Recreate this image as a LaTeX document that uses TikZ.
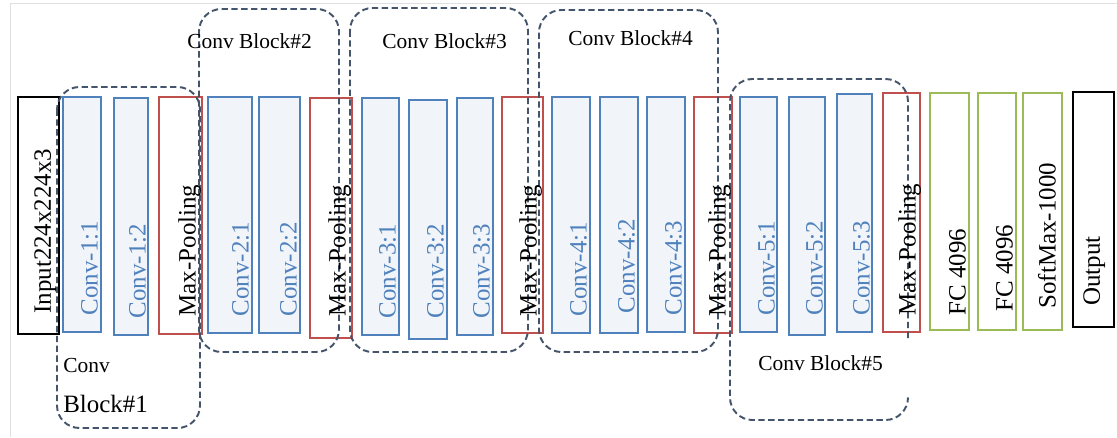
\documentclass[tikz,border=0pt]{standalone}
\usepackage{fontspec}
\setmainfont{Liberation Serif}
\usepackage{tikz}
\usetikzlibrary{calc,fit}
\definecolor{convblue}{RGB}{79,129,189}
\definecolor{convfill}{RGB}{241,245,250}
\definecolor{poolred}{RGB}{192,80,77}
\definecolor{fcgreen}{RGB}{155,187,89}
\definecolor{blkgray}{RGB}{68,84,106}
\tikzset{
	layer/.style={draw, inner sep=0pt, line width=0.8pt},
	conv/.style={layer, draw=convblue, fill=convfill},
	pool/.style={layer, draw=poolred},
	fc/.style={layer, draw=fcgreen},
	io/.style={layer, draw=black, line width=1.1pt},
	ltxt/.style={rotate=90, anchor=base west, inner sep=0pt, font=\fontsize{14.2}{15}\selectfont},
	ctxt/.style={ltxt, text=convblue},
	btxt/.style={anchor=base west, inner sep=0pt, font=\fontsize{12.2}{13}\selectfont},
	block/.style={draw=blkgray, line width=1.1pt, dash pattern=on 3.6pt off 2pt, rounded corners=0.45cm}
}

\begin{document}
\begin{tikzpicture}[x=0.02cm, y=-0.02cm]
			%%%%% START %%%%%
			\useasboundingbox (0,0) rectangle (1117,437);
			\draw[black!12] (10,437) -- (10,3) -- (1117,3);
			
			\node[io, fit={(18,97) (59,334)}] (inp) {};
			
			\node[conv, fit={(63,97) (101,332)}] (c11) {};
			\node[conv, fit={(114,98) (148,335)}] (c12) {};
			\node[pool, fit={(159,97) (202,334)}] (p1) {};
			
			\node[conv, fit={(208,97) (252,333)}] (c21) {};
			\node[conv, fit={(259,97) (300,333)}] (c22) {};
			\node[pool, fit={(310,98) (352,338)}] (p2) {};
			
			\node[conv, fit={(362,98) (399,335)}] (c31) {};
			\node[conv, fit={(409,100) (447,339)}] (c32) {};
			\node[conv, fit={(457,98) (493,335)}] (c33) {};
			\node[pool, fit={(502,97) (543,333)}] (p3) {};
			
			\node[conv, fit={(552,97) (590,333)}] (c41) {};
			\node[conv, fit={(600,97) (638,333)}] (c42) {};
			\node[conv, fit={(647,97) (685,332)}] (c43) {};
			\node[pool, fit={(694,97) (732,333)}] (p4) {};
			
			\node[conv, fit={(740,97) (777,332)}] (c51) {};
			\node[conv, fit={(789,97) (825,335)}] (c52) {};
			\node[conv, fit={(837,94) (872,332)}] (c53) {};
			\node[pool, fit={(883,93) (920,332)}] (p5) {};
			
			\node[fc, fit={(930,93) (969,330)}] (fc1) {};
			\node[fc, fit={(978,93) (1016,330)}] (fc2) {};
			\node[fc, fit={(1023,93) (1062,330)}] (sm) {};
			\node[io, fit={(1073,92) (1114,327)}] (out) {};
			
			% dashed conv blocks
			\draw[block] (57,87) rectangle (200,428);
			\draw[block] (199,9) rectangle (339,352);
			\draw[block] (350,8) rectangle (528,352);
			\draw[block] (539,10) rectangle (718,352);
			\draw[block] (908,338) -- (908,79) -- (730,79) -- (730,420) -- (908,420) -- (908,402);
			
			% layer texts
			\node[ltxt] (tinp) at ($(inp.south east)+(-9,-21)$) {Input224x224x3};
			\node[ctxt] (t11) at ($(c11.south east)+(-4,-17)$) {Conv-1:1};
			\node[ctxt] (t12) at ($(c12.south east)+(-3,-17)$) {Conv-1:2};
			\node[ltxt] (tp1) at ($(p1.south east)+(-7,-18)$) {Max-Pooling};
			\node[ctxt] (t21) at ($(c21.south east)+(-4,-17)$) {Conv-2:1};
			\node[ctxt] (t22) at ($(c22.south east)+(-4,-17)$) {Conv-2:2};
			\node[ltxt] (tp2) at ($(p2.south east)+(-7,-22)$) {Max-Pooling};
			\node[ctxt] (t31) at ($(c31.south east)+(-4,-17)$) {Conv-3:1};
			\node[ctxt] (t32) at ($(c32.south east)+(-4,-21)$) {Conv-3:2};
			\node[ctxt] (t33) at ($(c33.south east)+(-4,-17)$) {Conv-3:3};
			\node[ltxt] (tp3) at ($(p3.south east)+(-7,-17)$) {Max-Pooling};
			\node[ctxt] (t41) at ($(c41.south east)+(-4,-17)$) {Conv-4:1};
			\node[ctxt] (t42) at ($(c42.south east)+(-4,-20)$) {Conv-4:2};
			\node[ctxt] (t43) at ($(c43.south east)+(-4,-17)$) {Conv-4:3};
			\node[ltxt] (tp4) at ($(p4.south east)+(-7,-17)$) {Max-Pooling};
			\node[ctxt] (t51) at ($(c51.south east)+(-3,-17)$) {Conv-5:1};
			\node[ctxt] (t52) at ($(c52.south east)+(-3,-20)$) {Conv-5:2};
			\node[ctxt] (t53) at ($(c53.south east)+(-3,-17)$) {Conv-5:3};
			\node[ltxt] (tp5) at ($(p5.south east)+(-5,-17)$) {Max-Pooling};
			\node[ltxt] (tfc1) at ($(fc1.south east)+(-4,-15)$) {FC 4096};
			\node[ltxt] (tfc2) at ($(fc2.south east)+(-4,-19)$) {FC 4096};
			\node[ltxt] (tsm) at ($(sm.south east)+(-7,-22)$) {SoftMax-1000};
			\node[ltxt] (tout) at ($(out.south east)+(-15,-22)$) {Output};
			
			% block labels
			\node[btxt] (lb1a) at (63,372) {Conv};
			\node[btxt, font=\fontsize{14.2}{15}\selectfont] (lb1b) at (63,412) {Block\#1};
			\node[btxt] (lb2) at (187,48) {Conv Block\#2};
			\node[btxt] (lb3) at (382,48) {Conv Block\#3};
			\node[btxt] (lb4) at (568,45) {Conv Block\#4};
			\node[btxt] (lb5) at (758,370) {Conv Block\#5};
			%%%%% END %%%%%
\end{tikzpicture}
\end{document}
